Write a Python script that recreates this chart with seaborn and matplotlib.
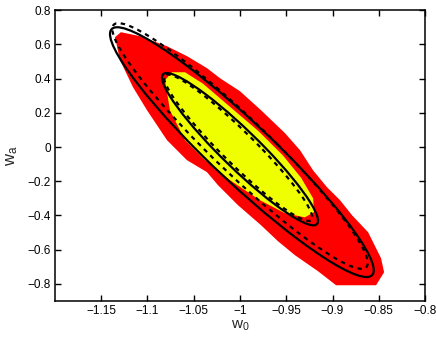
import numpy as np
import matplotlib
matplotlib.use('Agg')
import matplotlib.pyplot as plt
from matplotlib.patches import Ellipse, Polygon
import seaborn as sns

# outer (red) filled credible region
red_w0 = [-1.1351, -1.1287, -1.1081, -1.0789, -1.0573, -1.0357, -1.0216, -1.0000,
          -0.9773, -0.9514, -0.9351, -0.9211, -0.9060, -0.8919, -0.8789, -0.8616,
          -0.8476, -0.8443, -0.8530, -0.8962, -0.9157, -0.9405, -0.9589, -0.9773,
          -1.0022, -1.0238, -1.0357, -1.0573, -1.0789, -1.1005, -1.1157, -1.1297]
red_wa = [0.642, 0.671, 0.648, 0.589, 0.531, 0.461, 0.402, 0.326,
          0.215, 0.081, -0.019, -0.136, -0.235, -0.311, -0.399, -0.498,
          -0.650, -0.732, -0.808, -0.808, -0.726, -0.633, -0.551, -0.457,
          -0.340, -0.223, -0.147, -0.077, 0.040, 0.215, 0.350, 0.508]

# inner (yellow) filled region
yel_w0 = [-1.0811, -1.0735, -1.0595, -1.0400, -1.0130, -0.9805, -0.9535, -0.9340,
          -0.9210, -0.9200, -0.9300, -0.9514, -0.9784, -1.0108, -1.0378, -1.0595, -1.0757]
yel_wa = [0.391, 0.437, 0.437, 0.370, 0.245, 0.095, -0.050, -0.180,
          -0.300, -0.381, -0.411, -0.387, -0.311, -0.194, -0.077, 0.040, 0.215]

# Fisher ellipses: centre, half extent in w0 and wa, correlation
ell_names = ['outer_solid', 'outer_dash', 'inner_solid', 'inner_dash']
ell_cx = [-0.998, -1.000, -1.000, -1.002]
ell_cy = [-0.030, 0.006, -0.0125, -0.004]
ell_sx = [0.1425, 0.138, 0.0843, 0.080]
ell_sy = [0.730, 0.718, 0.445, 0.428]
ell_rho = [-0.945, -0.952, -0.940, -0.952]
ell_ls = ['-', (0, (2, 2)), '-', (0, (2, 2))]

sns.set_style('ticks')
plt.rcParams['font.family'] = ['Liberation Sans', 'DejaVu Sans']
plt.rcParams['mathtext.default'] = 'regular'

fig = plt.figure(figsize=(4.36, 3.38), dpi=100)
ax = fig.add_axes([0.126, 0.1095, 0.849, 0.8605])

ax.add_patch(Polygon(np.column_stack([red_w0, red_wa]), closed=True,
                     facecolor='#ff0000', edgecolor='none'))
ax.add_patch(Polygon(np.column_stack([yel_w0, yel_wa]), closed=True,
                     facecolor='#f0ff00', edgecolor='none'))

for cx, cy, sx, sy, r, ls in zip(ell_cx, ell_cy, ell_sx, ell_sy, ell_rho, ell_ls):
    cov = np.array([[sx**2, r*sx*sy], [r*sx*sy, sy**2]])
    vals, vecs = np.linalg.eigh(cov)
    ang = np.degrees(np.arctan2(vecs[1, 1], vecs[0, 1]))
    ax.add_patch(Ellipse((cx, cy), 2*np.sqrt(vals[1]), 2*np.sqrt(vals[0]), angle=ang,
                         fill=False, edgecolor='black', lw=1.6, linestyle=ls))

ax.set_xlim(-1.2, -0.8)
ax.set_ylim(-0.9, 0.8)
ax.set_xticks([-1.15, -1.1, -1.05, -1, -0.95, -0.9, -0.85, -0.8])
ax.set_xticklabels(['\u22121.15', '\u22121.1', '\u22121.05', '\u22121', '\u22120.95',
                    '\u22120.9', '\u22120.85', '\u22120.8'])
ax.set_yticks([-0.8, -0.6, -0.4, -0.2, 0, 0.2, 0.4, 0.6, 0.8])
ax.set_yticklabels(['\u22120.8', '\u22120.6', '\u22120.4', '\u22120.2', '0',
                    '0.2', '0.4', '0.6', '0.8'])
ax.tick_params(direction='in', top=True, right=True, length=4, width=1,
               labelsize=8.5, pad=3, colors='black')
for s in ax.spines.values():
    s.set_linewidth(1.1)
    s.set_color('black')

ax.set_xlabel('w$_0$', fontsize=11, labelpad=1)
ax.set_ylabel('w$_a$', fontsize=12, labelpad=5)

fig.savefig('out.png', dpi=100)
